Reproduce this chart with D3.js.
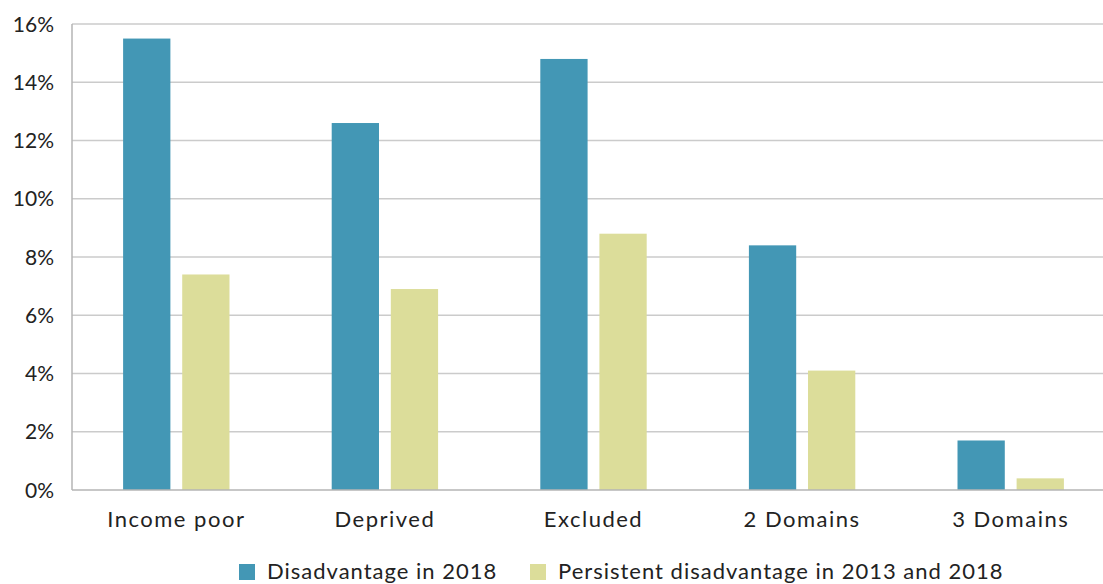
<!DOCTYPE html>
<html>
<head>
<meta charset="utf-8">
<script src="https://cdn.jsdelivr.net/npm/d3@7"></script>
<style>
  html, body { margin: 0; padding: 0; background: #fff; }
  svg { display: block; font-family: Lato, "Open Sans", sans-serif; }
</style>
</head>
<body>
<svg id="chart" width="1103" height="584"></svg>
<script>
// Share of population by disadvantage type (%)
const categories = ["Income poor", "Deprived", "Excluded", "2 Domains", "3 Domains"];
const seriesNames = ["Disadvantage in 2018", "Persistent disadvantage in 2013 and 2018"];
const disadvantage2018 = [15.5, 12.6, 14.8, 8.4, 1.7];
const persistent2013_2018 = [7.4, 6.9, 8.8, 4.1, 0.4];
const yTicks = [0, 2, 4, 6, 8, 10, 12, 14, 16];
const colors = ["#4397b5", "#dcdd9a"];

const svg = d3.select("#chart");
const W = 1103, H = 584;
const m = { left: 72, top: 24, bottom: 490, right: 1115 };

const x0 = d3.scaleBand().domain(categories).range([m.left, m.right]).paddingInner(0.49).paddingOuter(0.245);
const x1 = d3.scaleBand().domain([0, 1]).range([0, x0.bandwidth()]).paddingInner(0.2);
const y = d3.scaleLinear().domain([0, 16]).range([m.bottom, m.top]);

// horizontal gridlines
svg.append("g").selectAll("line").data(yTicks.filter(d => d > 0)).join("line")
  .attr("x1", m.left).attr("x2", W)
  .attr("y1", d => y(d)).attr("y2", d => y(d))
  .attr("stroke", "#cbcbcb").attr("stroke-width", 1.5);

// bars
const rows = categories.map((c, i) => ({ c, v: [disadvantage2018[i], persistent2013_2018[i]] }));
const grp = svg.append("g").selectAll("g").data(rows).join("g")
  .attr("transform", d => `translate(${x0(d.c)},0)`);
grp.selectAll("rect").data(d => d.v.map((v, k) => ({ v, k }))).join("rect")
  .attr("x", d => x1(d.k))
  .attr("width", x1.bandwidth())
  .attr("y", d => y(d.v))
  .attr("height", d => y(0) - y(d.v))
  .attr("fill", d => colors[d.k]);

// axis lines
svg.append("line").attr("x1", m.left).attr("x2", m.left).attr("y1", m.top).attr("y2", m.bottom)
  .attr("stroke", "#b4b4b4").attr("stroke-width", 1.5);
svg.append("line").attr("x1", m.left).attr("x2", W).attr("y1", m.bottom).attr("y2", m.bottom)
  .attr("stroke", "#b4b4b4").attr("stroke-width", 1.5);

// y tick labels
svg.append("g").selectAll("text").data(yTicks).join("text")
  .attr("x", 54).attr("y", d => y(d)).attr("dy", "0.36em")
  .attr("text-anchor", "end").attr("font-size", 21).attr("fill", "#222")
  .text(d => d + "%");

// category labels
svg.append("g").selectAll("text").data(categories).join("text")
  .attr("x", d => x0(d) + x0.bandwidth() / 2).attr("y", 527)
  .attr("text-anchor", "middle").attr("font-size", 22).attr("letter-spacing", 1.5).attr("fill", "#222")
  .text(d => d);

// legend
const leg = svg.append("g");
const startXs = [239, 530];
seriesNames.forEach((name, k) => {
  const g = leg.append("g").attr("transform", `translate(${startXs[k]},0)`);
  g.append("rect").attr("x", 0).attr("y", 564).attr("width", 16).attr("height", 16).attr("fill", colors[k]);
  g.append("text").attr("x", 28).attr("y", 579).attr("font-size", 22).attr("letter-spacing", 1).attr("fill", "#222").text(name);
});
</script>
</body>
</html>
